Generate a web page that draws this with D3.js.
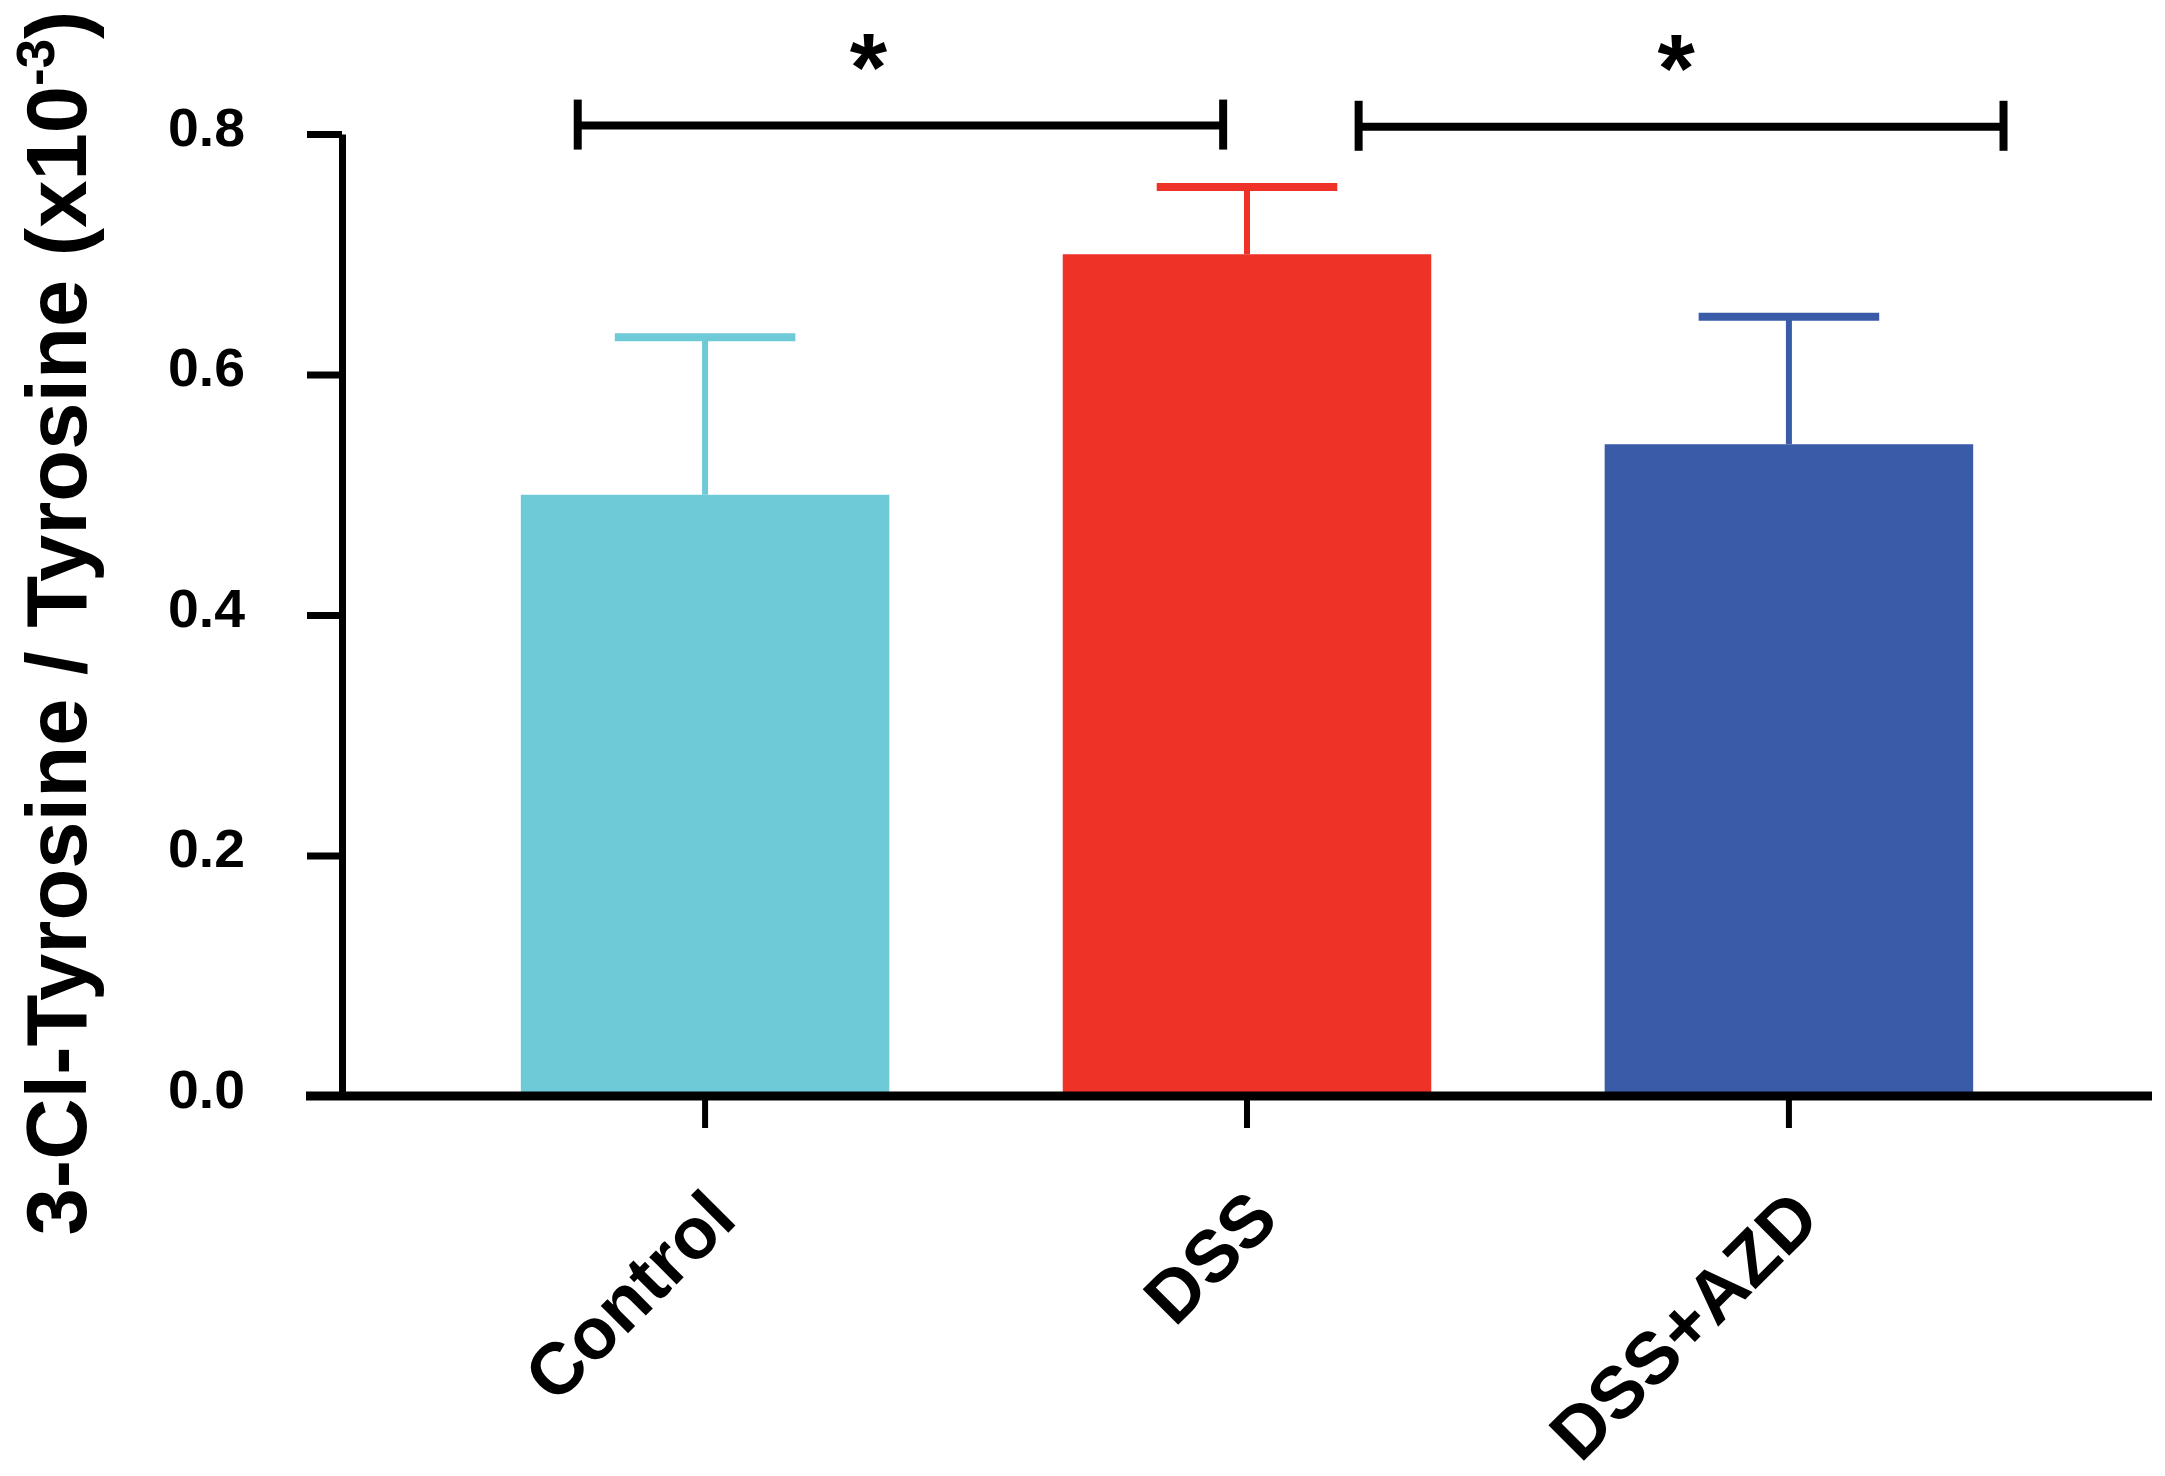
<!DOCTYPE html>
<html>
<head>
<meta charset="utf-8">
<script src="https://cdn.jsdelivr.net/npm/d3@7"></script>
<style>
  html, body { margin: 0; padding: 0; background: #fff; }
  text { font-family: "Liberation Sans", Arial, Helvetica, sans-serif; font-weight: bold; }
</style>
</head>
<body>
<div id="chart"></div>
<script>
// datos
const categories = ["Control", "DSS", "DSS+AZD"];
const means = [0.50, 0.70, 0.542];
const errors = [0.131, 0.056, 0.106];   // barra de error superior
const barColors = ["#6fcad8", "#ee3228", "#3a5ba8"];
const yTicks = [0, 0.2, 0.4, 0.6, 0.8];
const yTickLabels = ["0.0", "0.2", "0.4", "0.6", "0.8"];
const pairs = [["Control", "DSS"], ["DSS", "DSS+AZD"]];
const pairLabels = ["*", "*"];
const pairLevel = [0.807, 0.806];

const width = 2165, height = 1476;
const margin = { top: 134, right: 13, bottom: 380, left: 342 };

const svg = d3.select("#chart").append("svg")
  .attr("width", width)
  .attr("height", height);

svg.append("rect").attr("width", width).attr("height", height).attr("fill", "#fff");

// escalas
const x = d3.scaleBand()
  .domain(categories)
  .range([margin.left, width - margin.right])
  .paddingInner(0.32)
  .paddingOuter(0.33);

const y = d3.scaleLinear()
  .domain([0, 0.8])
  .range([height - margin.bottom, margin.top]);

const rows = categories.map((c, i) => ({ cat: c, mean: means[i], err: errors[i], color: barColors[i] }));

// barras
svg.append("g")
  .selectAll("rect")
  .data(rows)
  .join("rect")
    .attr("x", d => x(d.cat))
    .attr("width", x.bandwidth())
    .attr("y", d => y(d.mean))
    .attr("height", d => y(0) - y(d.mean))
    .attr("fill", d => d.color);

// barras de error (solo hacia arriba)
const eb = svg.append("g")
  .selectAll("g")
  .data(rows)
  .join("g")
    .attr("stroke", d => d.color);

eb.append("line")
  .attr("x1", d => x(d.cat) + x.bandwidth() / 2)
  .attr("x2", d => x(d.cat) + x.bandwidth() / 2)
  .attr("y1", d => y(d.mean))
  .attr("y2", d => y(d.mean + d.err))
  .attr("stroke-width", 6);

eb.append("line")
  .attr("x1", d => x(d.cat) + x.bandwidth() * 0.255)
  .attr("x2", d => x(d.cat) + x.bandwidth() * 0.745)
  .attr("y1", d => y(d.mean + d.err))
  .attr("y2", d => y(d.mean + d.err))
  .attr("stroke-width", 8);

// eje Y
const yAxis = d3.axisLeft(y)
  .tickValues(yTicks)
  .tickFormat((d, i) => yTickLabels[i])
  .tickSize(35)
  .tickSizeOuter(0)
  .tickPadding(62);

const gy = svg.append("g")
  .attr("transform", `translate(${margin.left},0)`)
  .call(yAxis);
gy.select(".domain").attr("stroke", "#000").attr("stroke-width", 7);
gy.selectAll(".tick line").attr("stroke", "#000").attr("stroke-width", 7);
gy.selectAll(".tick text")
  .attr("font-size", 53)
  .attr("fill", "#000")
  .attr("dy", "0.21em")
  .attr("textLength", 77)
  .attr("lengthAdjust", "spacingAndGlyphs");

// eje X
const xAxis = d3.axisBottom(x)
  .tickSize(32)
  .tickSizeOuter(0);

const gx = svg.append("g")
  .attr("transform", `translate(0,${y(0)})`)
  .call(xAxis);
gx.select(".domain").remove();
gx.append("line")
  .attr("x1", margin.left - 36)
  .attr("x2", width - margin.right)
  .attr("stroke", "#000")
  .attr("stroke-width", 9);
gx.selectAll(".tick line").attr("stroke", "#000").attr("stroke-width", 6);
gx.selectAll(".tick text")
  .attr("font-size", 73)
  .attr("fill", "#000")
  .attr("text-anchor", "end")
  .attr("x", 0).attr("y", 0).attr("dy", 0)
  .attr("transform", "translate(34,126) rotate(-45)");

// título del eje Y
const yTitle = svg.append("text")
  .attr("transform", `translate(86,${(14 + 1232) / 2}) rotate(-90)`)
  .attr("text-anchor", "middle")
  .attr("font-size", 85)
  .attr("fill", "#000");
yTitle.append("tspan").text("3-Cl-Tyrosine / Tyrosine (x10");
yTitle.append("tspan").attr("font-size", 53).attr("dy", -32).text("-3");
yTitle.append("tspan").attr("dy", 32).text(")");

// comparaciones significativas
const step = x.step();
const bracketOffsets = [[-0.235, -0.044], [0.206, 0.396]];
const starShift = [-32, -5];
pairs.forEach((p, i) => {
  const x1 = x(p[0]) + x.bandwidth() / 2 + bracketOffsets[i][0] * step;
  const x2 = x(p[1]) + x.bandwidth() / 2 + bracketOffsets[i][1] * step;
  const yy = y(pairLevel[i]);
  const g = svg.append("g").attr("stroke", "#000").attr("stroke-width", 8);
  g.append("line").attr("x1", x1).attr("x2", x2).attr("y1", yy).attr("y2", yy);
  g.append("line").attr("x1", x1).attr("x2", x1).attr("y1", yy - 26).attr("y2", yy + 24);
  g.append("line").attr("x1", x2).attr("x2", x2).attr("y1", yy - 26).attr("y2", yy + 24);
  svg.append("text")
    .attr("x", (x1 + x2) / 2 + starShift[i])
    .attr("y", yy - 26)
    .attr("text-anchor", "middle")
    .attr("font-size", 96)
    .attr("fill", "#000")
    .text(pairLabels[i]);
});
</script>
</body>
</html>
